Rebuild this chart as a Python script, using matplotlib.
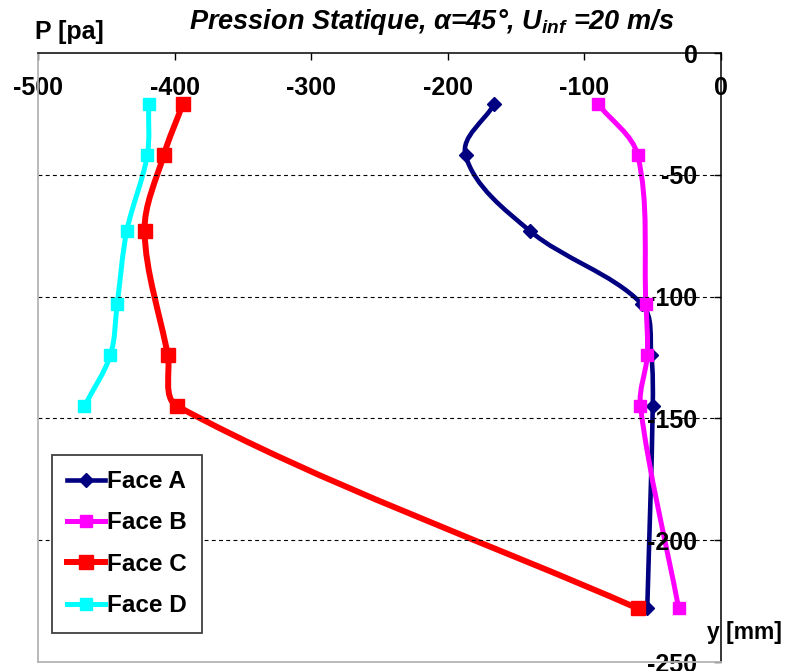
import numpy as np
import matplotlib
matplotlib.use("Agg")
import matplotlib.pyplot as plt
from matplotlib.path import Path
from matplotlib.patches import PathPatch
from matplotlib.lines import Line2D

plt.rcParams["font.family"] = ["Liberation Sans", "DejaVu Sans"]
plt.rcParams["axes.unicode_minus"] = False
plt.rcParams["mathtext.fontset"] = "custom"
plt.rcParams["mathtext.it"] = "Liberation Sans:bold:italic"
plt.rcParams["mathtext.rm"] = "Liberation Sans:bold"

# pression statique [pa] et position y [mm]
face_a_p = [-166, -187, -140, -58, -51, -50, -54]
face_a_y = [-21, -42, -73, -103, -124, -145, -228]

face_b_p = [-90, -61, -55, -54, -59, -31]
face_b_y = [-21, -42, -103, -124, -145, -228]

face_c_p = [-394, -408, -422, -405, -398, -61]
face_c_y = [-21, -42, -73, -124, -145, -228]

face_d_p = [-419, -420, -435, -442, -447, -466]
face_d_y = [-21, -42, -73, -103, -124, -145]

series = [
    ("Face A", face_a_p, face_a_y, "#000080", "D", 7, 3.3),
    ("Face B", face_b_p, face_b_y, "#ff00ff", "s", 8.5, 3.6),
    ("Face D", face_d_p, face_d_y, "#00ffff", "s", 9, 3.6),
    ("Face C", face_c_p, face_c_y, "#ff0000", "s", 10.5, 4.3),
]
legend_order = ["Face A", "Face B", "Face C", "Face D"]

x_ticks = [-500, -400, -300, -200, -100, 0]
y_ticks = [0, -50, -100, -150, -200, -250]


def smooth_path(ax, xs, ys, k=0.33):
    # courbe lissee facon Excel, calculee en pixels puis ramenee aux donnees
    pts = ax.transData.transform(np.column_stack([xs, ys]))
    n = len(pts)
    verts = [pts[0]]
    codes = [Path.MOVETO]

    def tangent(i):
        a = pts[max(i - 1, 0)]
        b = pts[min(i + 1, n - 1)]
        d = b - a
        return d / np.hypot(*d)

    for i in range(n - 1):
        p1, p2 = pts[i], pts[i + 1]
        seg = np.hypot(*(p2 - p1))
        verts += [p1 + tangent(i) * seg * k, p2 - tangent(i + 1) * seg * k, p2]
        codes += [Path.CURVE4] * 3
    verts = ax.transData.inverted().transform(np.array(verts))
    return Path(verts, codes)


fig = plt.figure(figsize=(7.9, 6.71), dpi=100)
ax = fig.add_axes([0.0481, 0.0134, 0.8646, 0.9076])
ax.set_xlim(-500, 0)
ax.set_ylim(-250, 0)

handles = {}
for name, px, py, col, mk, ms, lw in series:
    ax.add_patch(PathPatch(smooth_path(ax, px, py), fill=False, edgecolor=col,
                           linewidth=lw, capstyle="round", joinstyle="round"))
    ax.plot(px, py, linestyle="none", marker=mk, markersize=ms, color=col)
    handles[name] = Line2D([], [], color=col, linewidth=lw, marker=mk,
                           markersize=ms)

ax.set_xticks(x_ticks)
ax.set_yticks(y_ticks)
ax.xaxis.tick_top()
ax.yaxis.tick_right()
ax.tick_params(axis="x", direction="in", length=5, width=1, pad=-16.5,
               labelsize=18)
ax.tick_params(axis="y", direction="in", length=5, width=1, pad=-17,
               labelsize=18)
for lbl in ax.get_xticklabels():
    lbl.set_va("top")
    lbl.set_fontweight("bold")
for lbl in ax.get_yticklabels():
    lbl.set_ha("right")
    lbl.set_fontweight("bold")

ax.grid(axis="y", color="black", linewidth=0.8, linestyle=(0, (3.5, 3)))
gls = ax.yaxis.get_gridlines()
gls[0].set_visible(False)
gls[-1].set_visible(False)

for side in ["top", "right"]:
    ax.spines[side].set_color("black")
    ax.spines[side].set_linewidth(1.1)
for side in ["left", "bottom"]:
    ax.spines[side].set_color("#b4b4b4")
    ax.spines[side].set_linewidth(1.3)

leg = ax.legend([handles[n] for n in legend_order], legend_order,
                loc="upper left", bbox_to_anchor=(0.0205, 0.340),
                borderaxespad=0, fancybox=False, framealpha=1,
                edgecolor="#404040", handlelength=1.55, handletextpad=0.08,
                labelspacing=0.76, borderpad=0.62,
                prop={"size": 17.5, "weight": "bold"})
leg.get_frame().set_linewidth(1.3)

fig.text(0.546, 0.967, r"Pression Statique, α=45°, $U_{inf}$ =20 m/s",
         ha="center", va="center", fontsize=19.5, fontweight="bold",
         fontstyle="italic")
fig.text(0.044, 0.953, "P [pa]", ha="left", va="center", fontsize=18,
         fontweight="bold")
fig.text(0.895, 0.058, "y [mm]", ha="left", va="center", fontsize=16.5,
         fontweight="bold")

fig.savefig("out.png", dpi=100)
